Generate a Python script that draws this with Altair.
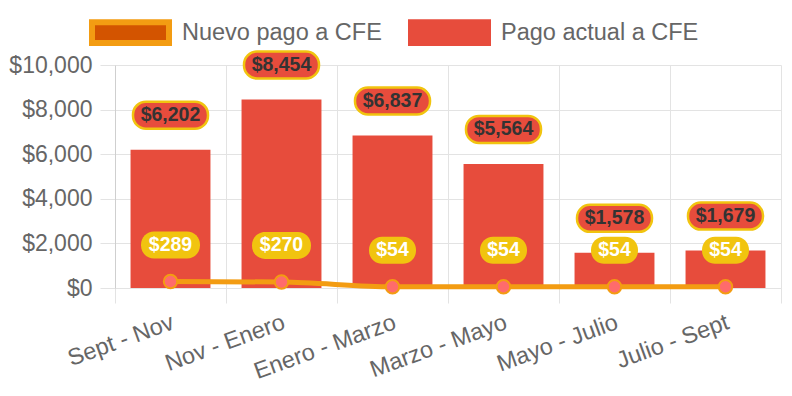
import altair as alt
import pandas as pd

periods = ["Sept - Nov", "Nov - Enero", "Enero - Marzo", "Marzo - Mayo", "Mayo - Julio", "Julio - Sept"]
pago_actual = [6202, 8454, 6837, 5564, 1578, 1679]
nuevo_pago = [289, 270, 54, 54, 54, 54]
series_names = ["Nuevo pago a CFE", "Pago actual a CFE"]
y_ticks = [0, 2000, 4000, 6000, 8000, 10000]

df = pd.DataFrame({"periodo": periods, "actual": pago_actual, "nuevo": nuevo_pago})

FONT = "Liberation Sans"
GRID = "#e3e3e3"
RED = "#e74c3c"
ORANGE = "#f39c12"

x = alt.X(
    "periodo:N", sort=periods, title=None,
    scale=alt.Scale(paddingInner=0, paddingOuter=0),
    axis=alt.Axis(tickBand="extent", grid=True, gridColor=GRID, tickColor=GRID, tickSize=15,
                  labelAngle=-20, labelAlign="right", labelBaseline="top", labelPadding=7,
                  labelOffset=-2, labelFontSize=23.5, labelColor="#666", labelFont=FONT,
                  labelLimit=300, domainColor=GRID),
)


def yenc(field):
    return alt.Y(
        f"{field}:Q", title=None,
        scale=alt.Scale(domain=[0, 10000], nice=False),
        axis=alt.Axis(values=y_ticks, format="$,.0f", grid=True, gridColor=GRID, tickColor=GRID,
                      tickSize=15, labelFontSize=23, labelColor="#666", labelFont=FONT,
                      labelPadding=8, domainColor="#cfcfcf"),
    )


def y2enc(field):
    return alt.Y2(f"{field}:Q")


base = alt.Chart(df)

legend = alt.Legend(
    title=None, orient="none", direction="horizontal", legendX=-26, legendY=-74,
    symbolType="M-1,-0.27H1V0.27H-1Z", symbolSize=77 * 77, symbolOpacity=1,
    symbolStrokeWidth=6,
    labelFontSize=23.5, labelColor="#666", labelFont=FONT, labelOffset=10, labelLimit=400,
    columnPadding=17, padding=0,
)

# invisible layer that only carries the legend
legend_layer = base.transform_calculate(serie="'Pago actual a CFE'").mark_point(
    filled=True, opacity=0).encode(
    x=x, y=yenc("actual"),
    color=alt.Color("serie:N", title=None,
                    scale=alt.Scale(domain=series_names, range=["#d35400", RED]),
                    legend=legend),
    stroke=alt.Stroke("serie:N", title=None,
                      scale=alt.Scale(domain=series_names, range=[ORANGE, RED]),
                      legend=legend),
)

bars = base.mark_bar(width=alt.RelativeBandSize(0.72), color=RED).encode(
    x=x, y=yenc("actual"))

bar_boxes = base.mark_bar(width=75, cornerRadius=13, fill=RED, stroke="#f1c40f",
                          strokeWidth=2.5, yOffset=-48, y2Offset=-21).encode(
    x=x, y=yenc("actual"), y2=y2enc("actual"))

bar_text = base.mark_text(fontSize=19.5, fontWeight="bold", font=FONT, color="#333",
                          baseline="middle", yOffset=-34.5).encode(
    x=x, y=yenc("actual"), text=alt.Text("actual:Q", format="$,.0f"))

line = base.mark_line(color=ORANGE, strokeWidth=5, interpolate="monotone").encode(
    x=x, y=yenc("nuevo"))

points = base.mark_point(filled=True, fill="#ff6b6b", stroke=ORANGE, strokeWidth=2,
                         size=180, opacity=1).encode(x=x, y=yenc("nuevo"))

box_big = base.transform_filter("datum.nuevo >= 100").mark_bar(
    width=59, cornerRadius=13, fill="#f1c40f", yOffset=-50, y2Offset=-23).encode(
    x=x, y=yenc("nuevo"), y2=y2enc("nuevo"))

box_small = base.transform_filter("datum.nuevo < 100").mark_bar(
    width=47, cornerRadius=13, fill="#f1c40f", yOffset=-50, y2Offset=-23).encode(
    x=x, y=yenc("nuevo"), y2=y2enc("nuevo"))

line_text = base.mark_text(fontSize=19.5, fontWeight="bold", font=FONT, color="white",
                           baseline="middle", yOffset=-36.5).encode(
    x=x, y=yenc("nuevo"), text=alt.Text("nuevo:Q", format="$,.0f"))

chart = alt.layer(bars, bar_boxes, bar_text, line, points, box_big, box_small, line_text,
                  legend_layer).properties(
    width=666, height=223,
    autosize=alt.AutoSizeParams(type="none"),
    padding={"left": 107, "top": 57, "right": 3, "bottom": 92},
).configure_view(stroke=None)

chart.save("out.html", embed_options={"renderer": "svg", "actions": False})
